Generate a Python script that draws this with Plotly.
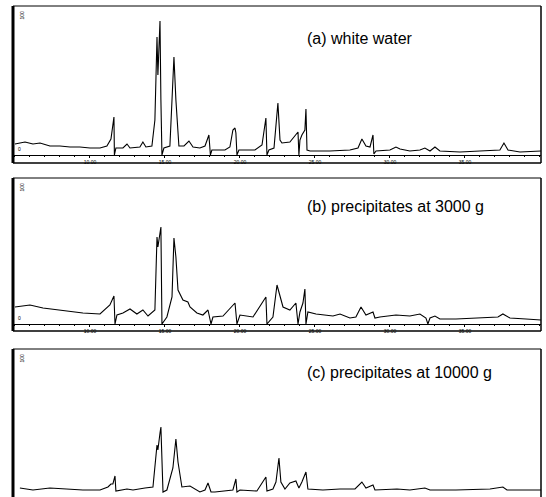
import plotly.graph_objects as go

# ---- data (retention time in min, abundance in arbitrary units) ----
time_a = [5.00, 5.67, 6.20, 6.67, 7.33, 8.00, 8.67, 9.33, 10.00, 10.67, 11.13, 11.40, 11.60, 11.63, 11.73,
          12.20, 12.47, 12.67, 13.33, 13.53, 13.73, 14.13, 14.33, 14.47, 14.53, 14.67, 14.73, 14.80, 14.93,
          15.33, 15.47, 15.60, 15.73, 15.93, 16.27, 16.60, 16.87, 17.33, 17.67, 17.93, 18.03, 18.13, 19.00,
          19.33, 19.53, 19.67, 19.73, 19.80, 19.93, 21.00, 21.47, 21.60, 21.73, 21.80, 21.93, 22.27, 22.47, 22.53,
          22.67, 22.80, 23.33, 23.67, 23.87, 23.93, 24.00, 24.13, 24.33, 24.40, 24.47, 24.67, 26.00, 27.33,
          27.87, 28.13, 28.40, 28.67, 28.87, 28.93, 29.07, 30.00, 30.40, 30.67, 31.33, 32.00, 32.33, 32.67,
          33.00, 33.33, 34.67, 36.00, 37.33, 37.60, 37.87, 38.67, 40.07]
abund_a = [11, 13, 11, 12, 9, 9, 8, 8, 7, 7, 9, 16, 38, 0, 7,
           7, 11, 7, 8, 13, 8, 9, 35, 118, 80, 134, 55, 0, 7,
           9, 55, 98, 55, 9, 9, 14, 8, 7, 9, 20, 0, 5, 5,
           8, 25, 27, 22, 0, 5, 5, 10, 22, 37, 0, 5, 7, 45, 52,
           15, 12, 13, 20, 23, 0, 15, 20, 25, 46, 5, 4, 4, 5,
           7, 16, 9, 8, 20, 1, 4, 5, 8, 6, 4, 5, 7, 4,
           8, 4, 3, 4, 5, 12, 5, 3, 4]

time_b = [5.00, 6.00, 6.87, 8.00, 9.53, 10.67, 11.33, 11.60, 11.67, 11.80, 12.20, 12.67, 13.13, 13.53, 13.87,
          14.33, 14.47, 14.53, 14.73, 14.80, 15.13, 15.47, 15.60, 15.73, 15.87, 16.20, 16.53, 16.67, 17.13,
          17.53, 17.87, 18.07, 18.20, 18.87, 19.67, 19.80, 20.00, 20.87, 21.47, 21.73, 21.80, 22.20, 22.47,
          22.67, 22.87, 23.33, 23.73, 23.87, 24.00, 24.20, 24.33, 24.40, 24.53, 25.07, 26.20, 26.67, 27.33,
          27.73, 28.07, 28.40, 28.73, 28.87, 29.00, 29.33, 30.40, 31.33, 32.00, 32.40, 32.53, 32.67, 33.00,
          33.33, 34.40, 35.53, 36.40, 37.20, 37.53, 38.00, 39.07, 40.07]
abund_b = [17, 19, 16, 14, 11, 10, 19, 28, 0, 9, 11, 15, 10, 14, 8,
           14, 87, 77, 97, 0, 7, 27, 86, 67, 34, 24, 22, 17, 11,
           9, 14, 0, 7, 8, 21, 0, 9, 7, 21, 27, 0, 7, 39,
           27, 17, 14, 21, 0, 12, 21, 35, 0, 12, 10, 8, 10, 6,
           7, 17, 9, 11, 12, 6, 7, 9, 8, 10, 6, 0, 6, 8,
           5, 5, 6, 7, 7, 10, 6, 5, 4]

time_c = [5.33, 6.20, 7.33, 8.47, 9.53, 10.67, 11.20, 11.40, 11.53, 11.67, 11.73, 12.47, 12.87, 13.67, 14.20,
          14.47, 14.53, 14.67, 14.73, 14.87, 15.13, 15.53, 15.73, 15.87, 16.13, 16.67, 17.13, 17.33, 17.67,
          17.87, 18.07, 18.33, 19.53, 19.73, 19.80, 20.00, 21.13, 21.53, 21.73, 21.80, 22.20, 22.40, 22.60,
          22.73, 23.00, 23.33, 23.73, 23.93, 24.13, 24.40, 24.53, 25.53, 26.67, 27.67, 28.13, 28.40, 28.87,
          29.00, 30.47, 31.33, 32.33, 32.67, 34.40, 36.67, 37.53, 37.80, 40.07]
abund_c = [5, 3, 5, 4, 3, 3, 6, 9, 9, 17, 2, 4, 3, 5, 6,
           48, 43, 60, 66, 1, 3, 25, 54, 31, 6, 7, 3, 1, 3,
           10, 1, 1, 3, 14, 1, 3, 2, 11, 16, 2, 4, 11, 35,
           11, 4, 10, 12, 5, 11, 21, 4, 3, 4, 4, 11, 5, 8,
           3, 4, 3, 5, 3, 3, 4, 6, 3, 3]

panel_labels = ["(a) white water", "(b) precipitates at 3000 g", "(c) precipitates at 10000 g"]
tick_vals = [10, 15, 20, 25, 30, 35]
tick_text = ["10.00", "15.00", "20.00", "25.00", "30.00", "35.00"]

W, H = 546, 497
def py(px):
    return 1 - px / H

fig = go.Figure()
series = [(time_a, abund_a), (time_b, abund_b), (time_c, abund_c)]
for i, (t, a) in enumerate(series):
    suffix = "" if i == 0 else str(i + 1)
    fig.add_trace(go.Scatter(x=t, y=a, mode="lines", xaxis="x" + suffix, yaxis="y" + suffix,
                             line=dict(color="black", width=1.1), showlegend=False, hoverinfo="skip"))

# panel geometry in pixels: (top, axis, frame bottom, y max)
panels = [(6, 155, 163, 149), (178, 324, 331, 146), (349, 493, 505, 144)]
xdom = [13 / W, 541 / W]
layout = dict(width=W, height=H, margin=dict(l=0, r=0, t=0, b=0),
              paper_bgcolor="white", plot_bgcolor="white", hovermode=False,
              font=dict(family="Liberation Sans, Arial, sans-serif", color="black"))
shapes = []
annotations = []
for i, (top, axis, fb, ymax) in enumerate(panels):
    suffix = "" if i == 0 else str(i + 1)
    show_axis = i < 2
    layout["xaxis" + suffix] = dict(domain=xdom, range=[4.87, 40.07], anchor="y" + suffix,
                                    showgrid=False, zeroline=False, showline=show_axis,
                                    linecolor="black", linewidth=1,
                                    ticks="outside" if show_axis else "", ticklen=2, tickcolor="black",
                                    tickvals=tick_vals, ticktext=tick_text, showticklabels=show_axis,
                                    tickfont=dict(size=5, color="black"),
                                    minor=dict(ticks="outside" if show_axis else "", dtick=1, ticklen=1,
                                               tickcolor="black"))
    layout["yaxis" + suffix] = dict(domain=[py(axis), py(top)], range=[0, ymax], anchor="x" + suffix,
                                    showgrid=False, zeroline=False, showline=False,
                                    showticklabels=False, ticks="")
    # frame
    shapes.append(dict(type="line", xref="paper", yref="paper", x0=13 / W, x1=541 / W,
                       y0=py(top), y1=py(top), line=dict(color="black", width=1)))
    shapes.append(dict(type="line", xref="paper", yref="paper", x0=541 / W, x1=541 / W,
                       y0=py(top), y1=py(min(fb, H)), line=dict(color="black", width=1.5)))
    shapes.append(dict(type="line", xref="paper", yref="paper", x0=13 / W, x1=13 / W,
                       y0=py(top), y1=py(min(fb, H + 5)), line=dict(color="black", width=3)))
    if fb < H:
        shapes.append(dict(type="line", xref="paper", yref="paper", x0=13 / W, x1=541 / W,
                           y0=py(fb), y1=py(fb), line=dict(color="black", width=1.5)))
    annotations.append(dict(text=panel_labels[i], xref="paper", yref="paper", x=305 / W,
                            y=py([38, 207, 372][i]), xanchor="left", yanchor="middle",
                            showarrow=False, font=dict(size=16, color="black")))
    annotations.append(dict(text="100", xref="paper", yref="paper", x=16 / W, y=py(top + 3),
                            xanchor="left", yanchor="top", textangle=-90, showarrow=False,
                            font=dict(size=5, color="black")))
    if show_axis:
        annotations.append(dict(text="0", xref="paper", yref="paper", x=16 / W, y=py(axis - 1),
                                xanchor="left", yanchor="bottom", showarrow=False,
                                font=dict(size=5, color="black")))

layout["shapes"] = shapes
layout["annotations"] = annotations
fig.update_layout(**layout)
fig.write_html("out.html", config={"staticPlot": True, "displayModeBar": False},
               post_script="document.body.style.margin='0';document.body.style.overflow='hidden';")
